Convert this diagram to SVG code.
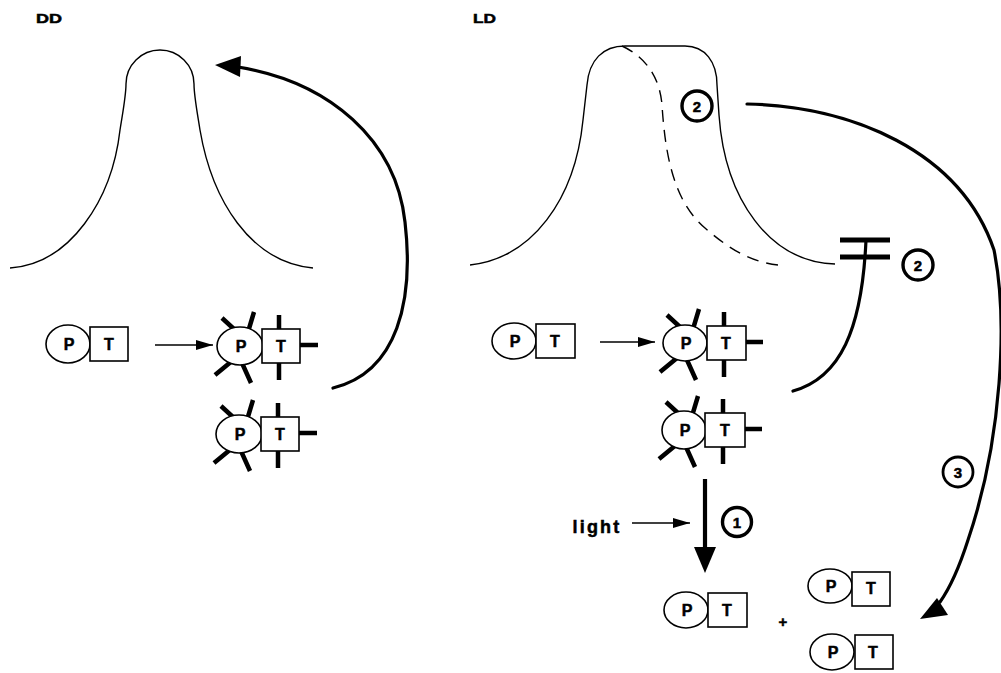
<svg xmlns="http://www.w3.org/2000/svg" xmlns:xlink="http://www.w3.org/1999/xlink" width="1001" height="673" viewBox="0 0 1001 673">
<style>
.bg{fill:#fff}
.curve{fill:none;stroke:#000;stroke-width:1.4}
.dash{fill:none;stroke:#000;stroke-width:1.4;stroke-dasharray:12 8}
.thick{fill:none;stroke:#000;stroke-width:3.2;stroke-linecap:round}
.thin{fill:none;stroke:#000;stroke-width:1.4}
.head{fill:#000;stroke:none}
.shape{fill:#fff;stroke:#000;stroke-width:1.6}
.tick{stroke:#000;stroke-width:4.5;stroke-linecap:butt}
.lbl{font-family:"Liberation Sans",Arial,sans-serif;font-weight:bold;fill:#000;stroke:#000;stroke-width:0.5;text-anchor:middle}
.pt{font-size:16px}
.ring{fill:#fff;stroke:#000;stroke-width:3.4}
.num{font-size:15px}
.title{font-family:"Liberation Sans",Arial,sans-serif;font-weight:bold;font-size:13.5px;fill:#000;stroke:#000;stroke-width:0.5}
</style>
<defs>
<marker id="ah" markerUnits="userSpaceOnUse" markerWidth="18" markerHeight="12" refX="17" refY="5" orient="auto">
<path d="M0,0 L17,5 L0,10 z" fill="#000"/>
</marker>
<g id="ticks">
<path class="tick" d="M39,-31 V-14 M39,14 V34 M57,-1 H78 M-18,-28 L-5,-16 M14,-34 L8,-14 M-25,29 L-8,15 M2,17 L11,37"/>
</g>
</defs>
<rect class="bg" x="0" y="0" width="1001" height="673"/>

<g id="titles">
<text class="title" x="36" y="23" textLength="26" lengthAdjust="spacingAndGlyphs">DD</text>
<text class="title" x="473" y="23" textLength="23" lengthAdjust="spacingAndGlyphs">LD</text>
</g>

<g id="dd-profile">
<path class="curve" d="M10,268 C70,264 112,200 120,130 C124,105 126,95 126,84 A34,34 0 0 1 194,84 C194,95 196,105 200,130 C212,200 250,262 313,268"/>
</g>

<g id="ld-profile">
<path class="curve" d="M470,265 C532,258 575,200 583,120 L587,85 C589,60 603,46 625,46 L685,46 C705,46 717,62 717,85 L719,115 C725,200 770,262 835,264"/>
<path class="dash" d="M622,46 C648,58 660,80 662,105 C665,150 672,200 705,228 C728,248 750,262 778,265"/>
</g>

<g id="dd-pt">
<g transform="translate(68,344)">
<ellipse class="shape" cx="0" cy="0" rx="22" ry="19"/>
<rect class="shape" x="22" y="-17" width="38" height="34"/>
<text class="lbl pt" x="1" y="6">P</text>
<text class="lbl pt" x="41" y="6">T</text>
</g>
</g>

<g id="dd-ppt1">
<g transform="translate(240,346)">
<use xlink:href="#ticks"/>
<ellipse class="shape" cx="0" cy="0" rx="23" ry="19"/>
<rect class="shape" x="22" y="-17" width="38" height="34"/>
<text class="lbl pt" x="1" y="6">P</text>
<text class="lbl pt" x="41" y="6">T</text>
</g>
</g>

<g id="dd-ppt2">
<g transform="translate(239,434)">
<use xlink:href="#ticks"/>
<ellipse class="shape" cx="0" cy="0" rx="23" ry="19"/>
<rect class="shape" x="22" y="-17" width="38" height="34"/>
<text class="lbl pt" x="1" y="6">P</text>
<text class="lbl pt" x="41" y="6">T</text>
</g>
</g>

<g id="ld-pt">
<g transform="translate(514,341)">
<ellipse class="shape" cx="0" cy="0" rx="22" ry="18"/>
<rect class="shape" x="22" y="-17" width="39" height="34"/>
<text class="lbl pt" x="1" y="6">P</text>
<text class="lbl pt" x="41" y="6">T</text>
</g>
</g>

<g id="ld-ppt1">
<g transform="translate(685,343)">
<use xlink:href="#ticks"/>
<ellipse class="shape" cx="0" cy="0" rx="22" ry="18"/>
<rect class="shape" x="22" y="-17" width="39" height="34"/>
<text class="lbl pt" x="1" y="6">P</text>
<text class="lbl pt" x="41" y="6">T</text>
</g>
</g>

<g id="ld-ppt2">
<g transform="translate(684,430)">
<use xlink:href="#ticks"/>
<ellipse class="shape" cx="0" cy="0" rx="22" ry="19"/>
<rect class="shape" x="21" y="-17" width="40" height="34"/>
<text class="lbl pt" x="1" y="6">P</text>
<text class="lbl pt" x="41" y="6">T</text>
</g>
</g>

<g id="ld-pt-a">
<g transform="translate(686,610)">
<ellipse class="shape" cx="0" cy="0" rx="22" ry="18"/>
<rect class="shape" x="22" y="-17" width="39" height="34"/>
<text class="lbl pt" x="1" y="6">P</text>
<text class="lbl pt" x="41" y="6">T</text>
</g>
</g>

<g id="ld-pt-b">
<g transform="translate(830,586)">
<ellipse class="shape" cx="0" cy="0" rx="22" ry="17"/>
<rect class="shape" x="22" y="-14" width="38" height="34"/>
<text class="lbl pt" x="1" y="6">P</text>
<text class="lbl pt" x="41" y="8">T</text>
</g>
</g>

<g id="ld-pt-c">
<g transform="translate(832,652)">
<ellipse class="shape" cx="0" cy="0" rx="22" ry="18"/>
<rect class="shape" x="23" y="-17" width="38" height="34"/>
<text class="lbl pt" x="1" y="6">P</text>
<text class="lbl pt" x="41" y="6">T</text>
</g>
</g>

<g id="plus">
<text class="lbl" x="783" y="627" font-size="15">+</text>
</g>

<g id="light-label">
<text class="lbl" x="597" y="533" font-size="18" letter-spacing="2.2">light</text>
</g>

<g id="badges">
<circle class="ring" cx="697" cy="106" r="15"/>
<text class="lbl num" x="697" y="111.5">2</text>
<circle class="ring" cx="918" cy="265" r="15"/>
<text class="lbl num" x="918" y="270.5">2</text>
<circle class="ring" cx="737" cy="522" r="14.5"/>
<text class="lbl num" x="737" y="527.5">1</text>
<circle class="ring" cx="958" cy="472" r="15" style="stroke-width:2.8"/>
<text class="lbl num" x="958" y="477.5">3</text>
</g>

<g id="connectors">
<line class="thin" x1="155" y1="345" x2="213" y2="345" marker-end="url(#ah)"/>
<line class="thin" x1="600" y1="342" x2="655" y2="342" marker-end="url(#ah)"/>
<line class="thin" x1="632" y1="523" x2="690" y2="523" marker-end="url(#ah)"/>
<path class="thick" d="M333,388 C398,372 414,300 405,222 C396,140 330,82 238,67"/>
<polygon class="head" points="215,65 241,56 240,77"/>
<path class="thick" style="stroke-width:4.2;stroke-linecap:butt" d="M705,479 V550"/>
<polygon class="head" points="694,547 716,547 705,573"/>
<path class="thick" d="M747,104 C850,106 960,150 994,250 C1008,320 1002,440 968,540 C960,565 952,585 940,602"/>
<polygon class="head" points="920,619 937,598 948,615"/>
<path class="thick" d="M793,391 C840,378 862,330 866,240"/>
<path class="tick" style="stroke-width:5" d="M840,240 H890 M840,257 H890"/>
</g>
</svg>
